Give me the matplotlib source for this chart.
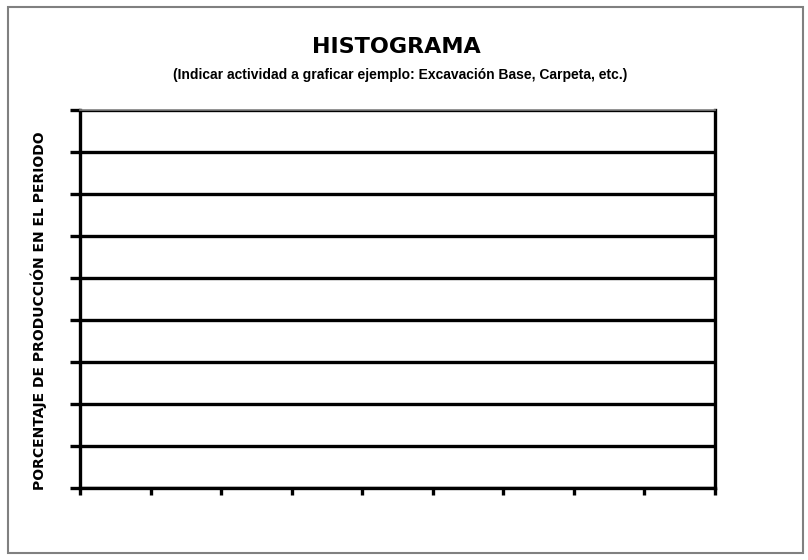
import numpy as np
import matplotlib
matplotlib.use("Agg")
import matplotlib.pyplot as plt
from matplotlib.patches import Rectangle

# ===== datos (plantilla vacía) =====
periodos = ["", "", "", "", "", "", "", "", ""]
valores = [0, 0, 0, 0, 0, 0, 0, 0, 0]
y_ticks = [0, 1, 2, 3, 4, 5, 6, 7, 8, 9]

titulo = "HISTOGRAMA"
subtitulo = "(Indicar actividad a graficar ejemplo: Excavación Base, Carpeta, etc.)"
etiqueta_y = "PORCENTAJE DE PRODUCCIÓN EN EL PERIODO"

# ===== figura =====
fig = plt.figure(figsize=(8.08, 5.6), dpi=100)
fig.patch.set_facecolor("white")

# marco exterior
fig.patches.append(Rectangle((8/808, 7/560), 795/808, 546/560,
                             transform=fig.transFigure, fill=False,
                             edgecolor="#808080", linewidth=1.5))

ax = fig.add_axes([80/808, 72/560, 635/808, 378/560])

x = np.arange(len(periodos))
ax.bar(x + 0.5, valores, width=1.0, color="none")

ax.set_xlim(0, len(periodos))
ax.set_ylim(y_ticks[0], y_ticks[-1])
ax.set_xticks(np.arange(len(periodos) + 1))
ax.set_yticks(y_ticks)
ax.set_xticklabels([])
ax.set_yticklabels([])

ax.grid(axis="y", color="black", linewidth=2.4)
ax.set_axisbelow(True)

for s in ["left", "bottom", "right"]:
    ax.spines[s].set_linewidth(2.4)
    ax.spines[s].set_color("black")
ax.spines["top"].set_linewidth(1.2)
ax.spines["top"].set_color("#808080")

ax.tick_params(axis="y", direction="out", length=7, width=2.4, color="black")
ax.tick_params(axis="x", direction="out", length=5, width=2.4, color="black")

ax.set_ylabel(etiqueta_y, fontsize=10, fontweight="bold",
              family="DejaVu Sans", fontstretch="normal")
ax.yaxis.set_label_coords(-33/635, (488 - 311)/378)

fig.text(396/808, 1 - 47/560, titulo, ha="center", va="center",
         fontsize=16, fontweight="bold", family="DejaVu Sans",
         fontstretch="normal")
fig.text(400/808, 1 - 75/560, subtitulo, ha="center", va="center",
         fontsize=10, fontweight="bold", family="Liberation Sans")

fig.savefig("out.png", dpi=100, facecolor="white")
